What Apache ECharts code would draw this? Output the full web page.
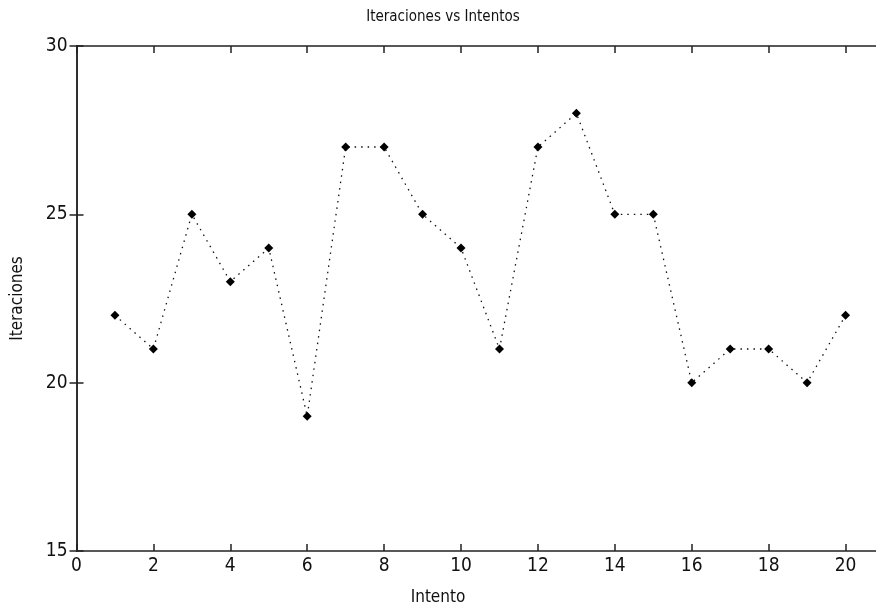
<!DOCTYPE html>
<html><head><meta charset="utf-8">
<script src="https://cdn.jsdelivr.net/npm/echarts@6/dist/echarts.min.js"></script>
<style>html,body{margin:0;padding:0;background:#fff;overflow:hidden}#c{width:876px;height:610px}</style>
</head><body><div id="c"></div>
<script>
const intentos = [1,2,3,4,5,6,7,8,9,10,11,12,13,14,15,16,17,18,19,20];
const iteraciones = [22,21,25,23,24,19,27,27,25,24,21,27,28,25,25,20,21,21,20,22];
const xTicks = [0,2,4,6,8,10,12,14,16,18,20];
const yTicks = [15,20,25,30];

const FONT = '"Liberation Sans Narrow","DejaVu Sans Condensed","Liberation Sans",sans-serif';
const axisLine = {show:true, lineStyle:{color:'#222', width:1.5}};
const tick = {show:true, inside:true, length:7, lineStyle:{color:'#222', width:1.5}};
const chart = echarts.init(document.getElementById('c'), null, {renderer:'canvas'});
chart.setOption({
  backgroundColor:'#fff',
  animation:false,
  title:{text:'Iteraciones vs Intentos', left:438, textAlign:'center', top:5,
    textStyle:{fontFamily:FONT, fontSize:15, fontWeight:'normal', color:'#111'}},
  graphic:[{type:'text', x:438, y:598, style:{text:'Intento', align:'center', verticalAlign:'middle',
    font:'17px "Liberation Sans Narrow","DejaVu Sans Condensed",sans-serif', fill:'#111'}}],
  grid:{left:76.5, width:807.5, top:46, height:505, containLabel:false, outerBoundsMode:'none'},
  xAxis:[{
    type:'value', min:0, max:21, interval:2, position:'bottom',
    axisLine:axisLine, axisTick:tick, splitLine:{show:false},
    axisLabel:{fontFamily:FONT, fontSize:19, color:'#111', margin:6,
      formatter:v => xTicks.includes(v) ? String(v) : ''}
  },{
    type:'value', min:0, max:21, interval:2, position:'top',
    axisLine:axisLine, axisTick:tick, splitLine:{show:false}, axisLabel:{show:false}
  }],
  yAxis:[{
    type:'value', min:15, max:30, interval:5, position:'left',
    name:'Iteraciones', nameLocation:'middle', nameGap:50, nameRotate:90,
    nameTextStyle:{fontFamily:FONT, fontSize:17, color:'#111'},
    axisLine:axisLine, axisTick:tick, splitLine:{show:false},
    axisLabel:{fontFamily:FONT, fontSize:19, color:'#111', margin:9,
      formatter:v => yTicks.includes(v) ? String(v) : ''}
  },{
    type:'value', min:15, max:30, interval:5, position:'right',
    axisLine:axisLine, axisTick:tick, splitLine:{show:false}, axisLabel:{show:false}
  }],
  series:[{
    type:'line',
    data:intentos.map((x,i)=>[x, iteraciones[i]]),
    symbol:'diamond', symbolSize:9,
    itemStyle:{color:'#000'},
    lineStyle:{color:'#111', width:1.3, type:[1.5,5]},
    clip:false
  }]
});
</script></body></html>
